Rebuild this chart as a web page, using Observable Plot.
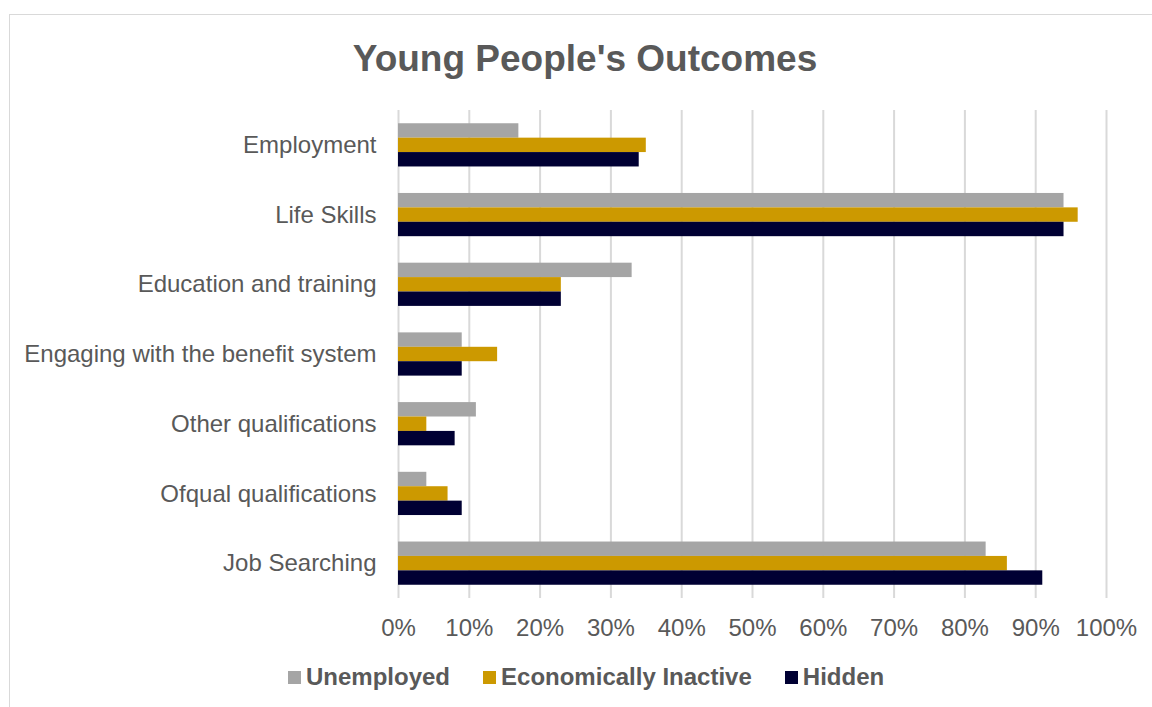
<!DOCTYPE html>
<html>
<head>
<meta charset="utf-8">
<script src="https://cdn.jsdelivr.net/npm/d3@7"></script>
<script src="https://cdn.jsdelivr.net/npm/@observablehq/plot@0.6"></script>
<style>
  html, body { margin: 0; padding: 0; background: #fff; width: 1152px; height: 707px; overflow: hidden; font-family: "Liberation Sans", Arial, sans-serif; }
  #frame { position: absolute; left: 9px; top: 14px; width: 1200px; height: 800px; border: 1px solid #d9d9d9; box-sizing: border-box; }
  #title { position: absolute; left: 9px; width: 1152px; top: 40px; text-align: center; font-size: 37px; line-height: 1; font-weight: bold; color: #595959; }
  #chart { position: absolute; left: 0; top: 100px; }
  #legend { position: absolute; left: 288px; top: 664px; display: flex; align-items: center; font-size: 24px; font-weight: bold; color: #595959; line-height: 26px; }
  .item { display: flex; align-items: center; margin-right: 33px; }
  .sw { width: 13px; height: 13px; margin-right: 5px; }
</style>
</head>
<body>
<div id="frame"></div>
<div id="title">Young People's Outcomes</div>
<div id="chart"></div>
<div id="legend"></div>
<script>
const categories = ["Employment", "Life Skills", "Education and training", "Engaging with the benefit system", "Other qualifications", "Ofqual qualifications", "Job Searching"];
const seriesNames = ["Unemployed", "Economically Inactive", "Hidden"];
const colors = ["#A5A5A5", "#CC9900", "#000033"];
const unemployed = [17, 94, 33, 9, 11, 4, 83];
const inactive = [35, 96, 23, 14, 4, 7, 86];
const hidden = [34, 94, 23, 9, 8, 9, 91];
const xTicks = [0, 10, 20, 30, 40, 50, 60, 70, 80, 90, 100];

const seriesValues = [unemployed, inactive, hidden];
const data = [];
seriesNames.forEach((s, si) => categories.forEach((c, ci) => data.push({category: c, series: s, value: seriesValues[si][ci]})));

const width = 1152, height = 550, mt = 10, mb = 52, ml = 398, mr = 46;
const paddingInner = 0.38;
const step = (height - mt - mb) / categories.length;
const bw = step * (1 - paddingInner);
const third = bw / 3;

const barMarks = seriesNames.map((s, i) => Plot.barX(data.filter(d => d.series === s), {
  x: "value", y: "category", fill: colors[i],
  insetTop: third, insetBottom: third, dy: (i - 1) * third
}));

const chart = Plot.plot({
  width, height, marginTop: mt, marginBottom: mb, marginLeft: ml, marginRight: mr,
  style: { fontFamily: "'Liberation Sans', Arial, sans-serif", fontSize: "24px", color: "#595959", background: "transparent" },
  x: { domain: [0, 100], ticks: xTicks, tickFormat: d => d + "%", label: null },
  y: { domain: categories, paddingInner: paddingInner, paddingOuter: paddingInner / 2, round: false, label: null },
  marks: [
    Plot.ruleX(xTicks, { stroke: "#d9d9d9", strokeWidth: 2 }),
    ...barMarks,
    Plot.axisX({ ticks: xTicks, tickFormat: d => d + "%", tickSize: 0, tickPadding: 20, fontSize: 24, fill: "#595959", label: null }),
    Plot.axisY({ tickSize: 0, tickPadding: 22, fontSize: 24, fill: "#595959", label: null })
  ]
});
document.getElementById("chart").appendChild(chart);

const legend = document.getElementById("legend");
seriesNames.forEach((s, i) => {
  const item = document.createElement("div");
  item.className = "item";
  const sw = document.createElement("div");
  sw.className = "sw";
  sw.style.background = colors[i];
  const t = document.createElement("span");
  t.textContent = s;
  item.appendChild(sw); item.appendChild(t);
  legend.appendChild(item);
});
</script>
</body>
</html>
